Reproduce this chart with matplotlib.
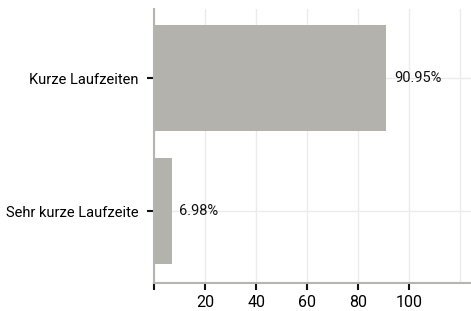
import matplotlib.pyplot as plt

categories = ['Sehr kurze Laufzeite', 'Kurze Laufzeiten']
values = [6.98, 90.95]
xticks = [0, 20, 40, 60, 80, 100]
xtick_labels = ['', '20', '40', '60', '80', '100']

plt.rcParams['font.family'] = ['Roboto', 'DejaVu Sans']

fig = plt.figure(figsize=(4.71, 3.11), dpi=100)
ax = fig.add_axes([154 / 471, 1 - 283 / 311, (471 - 154) / 471, (283 - 9) / 311])

y = range(len(categories))
ax.barh(y, values, height=0.8, color='#b3b2ad', zorder=2)
for i, v in zip(y, values):
    ax.annotate(f'{v:.2f}%', (v, i), xytext=(5.5, 0), textcoords='offset points',
                va='center', ha='left', fontsize=10.5, color='#111111')

ax.set_yticks(list(y))
ax.set_yticklabels(categories, fontsize=10.5)
ax.set_xticks(xticks)
ax.set_xticklabels(xtick_labels, fontsize=11.5)
ax.set_xlim(0, 124.2)
ax.set_ylim(-0.54, 1.52)

ax.grid(True, color='#ebebeb', linewidth=1, zorder=0)
ax.axvline(120, color='#ebebeb', linewidth=1, zorder=0)
for s in ['top', 'right']:
    ax.spines[s].set_visible(False)
for s in ['left', 'bottom']:
    ax.spines[s].set_color('#b5b5b0')
    ax.spines[s].set_linewidth(1.5)
ax.tick_params(axis='both', length=5, width=1.5, color='#111111', pad=6)
ax.tick_params(axis='x', pad=3.5)

plt.savefig('out.png', dpi=100)
